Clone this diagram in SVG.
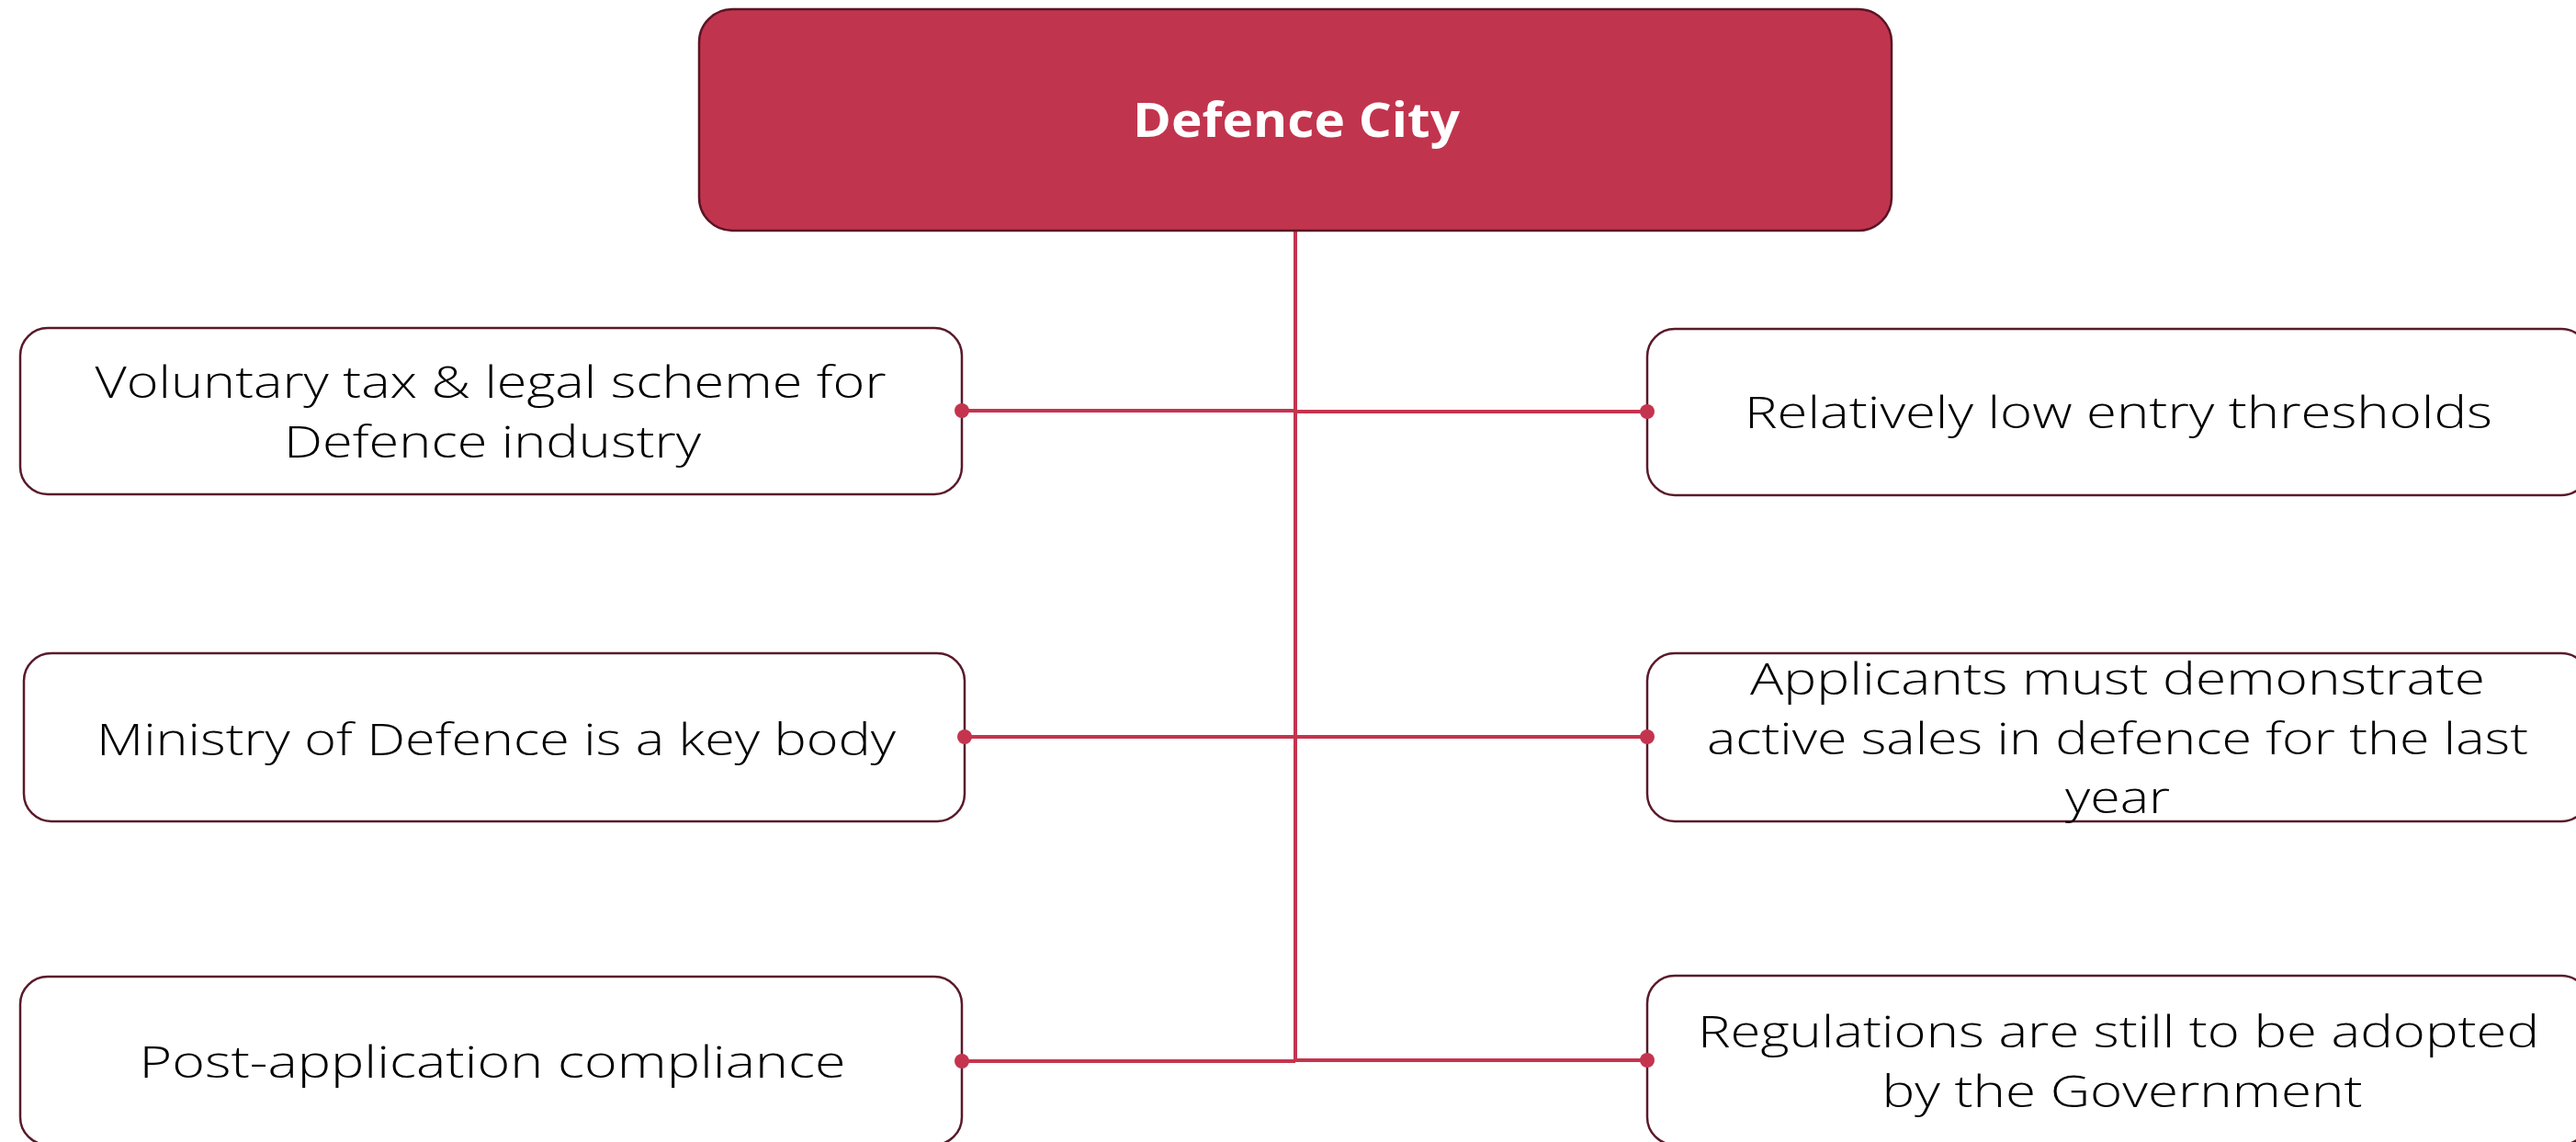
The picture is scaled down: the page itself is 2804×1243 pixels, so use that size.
<svg xmlns="http://www.w3.org/2000/svg" width="2804" height="1243" viewBox="0 0 2804 1243">
<style>
.bg{fill:#ffffff}
.root{fill:#C1344E;stroke:#5A1525;stroke-width:2.5}
.box{fill:#ffffff;stroke:#5A1A2A;stroke-width:2.5}
.t{font-family:"Open Sans","Liberation Sans",sans-serif;font-weight:300;font-size:48px;fill:#000000;text-anchor:middle}
.title{font-family:"Open Sans","Liberation Sans",sans-serif;font-weight:700;font-size:52px;fill:#ffffff;text-anchor:middle}
.ln{fill:none;stroke:#C4344F;stroke-width:4}
.dot{fill:#C4344F}
</style>
<rect class="bg" x="0" y="0" width="2804" height="1243"/>
<g id="connectors">
<line class="ln" x1="1410" y1="251" x2="1410" y2="1156"/>
<line class="ln" x1="1047" y1="447" x2="1410" y2="447"/>
<line class="ln" x1="1410" y1="448" x2="1793" y2="448"/>
<line class="ln" x1="1050" y1="802" x2="1410" y2="802"/>
<line class="ln" x1="1410" y1="802" x2="1793" y2="802"/>
<line class="ln" x1="1047" y1="1155" x2="1410" y2="1155"/>
<line class="ln" x1="1410" y1="1154" x2="1793" y2="1154"/>
</g>
<g id="root">
<rect class="root" x="761" y="10" width="1298" height="241" rx="36" ry="36"/>
<text class="title" x="1411" y="149" textLength="356" lengthAdjust="spacingAndGlyphs">Defence City</text>
</g>
<g id="n1">
<rect class="box" x="22" y="357" width="1025" height="181" rx="30" ry="30"/>
<text class="t" x="534" y="433" textLength="861" lengthAdjust="spacingAndGlyphs">Voluntary tax &amp; legal scheme for</text>
<text class="t" x="536" y="498" textLength="454" lengthAdjust="spacingAndGlyphs">Defence industry</text>
</g>
<g id="n2">
<rect class="box" x="26" y="711" width="1024" height="183" rx="30" ry="30"/>
<text class="t" x="540" y="822" textLength="870" lengthAdjust="spacingAndGlyphs">Ministry of Defence is a key body</text>
</g>
<g id="n3">
<rect class="box" x="22" y="1063" width="1025" height="183" rx="30" ry="30"/>
<text class="t" x="536" y="1173" textLength="769" lengthAdjust="spacingAndGlyphs">Post-application compliance</text>
</g>
<g id="n4">
<rect class="box" x="1793" y="358" width="1025" height="181" rx="30" ry="30"/>
<text class="t" x="2306" y="466" textLength="814" lengthAdjust="spacingAndGlyphs">Relatively low entry thresholds</text>
</g>
<g id="n5">
<rect class="box" x="1793" y="711" width="1025" height="183" rx="30" ry="30"/>
<text class="t" x="2305" y="756" textLength="800" lengthAdjust="spacingAndGlyphs">Applicants must demonstrate</text>
<text class="t" x="2305" y="821" textLength="894" lengthAdjust="spacingAndGlyphs">active sales in defence for the last</text>
<text class="t" x="2305" y="885" textLength="114" lengthAdjust="spacingAndGlyphs">year</text>
</g>
<g id="n6">
<rect class="box" x="1793" y="1062" width="1025" height="184" rx="30" ry="30"/>
<text class="t" x="2306" y="1140" textLength="916" lengthAdjust="spacingAndGlyphs">Regulations are still to be adopted</text>
<text class="t" x="2310" y="1205" textLength="523" lengthAdjust="spacingAndGlyphs">by the Government</text>
</g>
<g id="dots">
<circle class="dot" cx="1047" cy="447" r="8"/>
<circle class="dot" cx="1793" cy="448" r="8"/>
<circle class="dot" cx="1050" cy="802" r="8"/>
<circle class="dot" cx="1793" cy="802" r="8"/>
<circle class="dot" cx="1047" cy="1155" r="8"/>
<circle class="dot" cx="1793" cy="1154" r="8"/>
</g>
</svg>
